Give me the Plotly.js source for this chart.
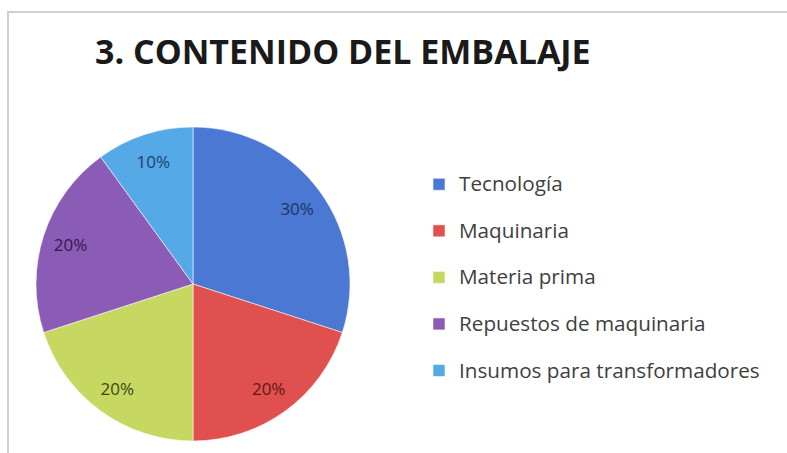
<!DOCTYPE html>
<html>
<head>
<meta charset="utf-8">
<script src="https://cdn.plot.ly/plotly-3.0.1.min.js"></script>
<style>html,body{margin:0;padding:0;background:#fff;}#chart{width:787px;height:453px;}</style>
</head>
<body>
<div id="chart"></div>
<script>
var categories = ["Tecnología", "Maquinaria", "Materia prima", "Repuestos de maquinaria", "Insumos para transformadores"];
var values = [30, 20, 20, 20, 10];
var sliceColors = ["#4A78D2", "#E0504E", "#C6D862", "#8B5CB5", "#55A9E6"];
var labelColors = ["#1C3466", "#5E1818", "#3C4612", "#34184C", "#1A4468"];
var titleText = "3. CONTENIDO DEL EMBALAJE";

var FONT = "'Open Sans', Lato, sans-serif";
var legendLabels = categories.map(function (c) {
  return '<span style="font-size:20.7px;baseline-shift:6px">' + c + '</span>';
});

var W = 787, H = 453;
var cx = 193, cy = 284, r = 157;
var dom = {
  x: [(cx - r) / W, (cx + r) / W],
  y: [(H - cy - r) / H, (H - cy + r) / H]
};

// filled pie with legend
var pieTrace = {
  type: "pie",
  labels: legendLabels,
  values: values,
  sort: false,
  direction: "clockwise",
  rotation: 0,
  marker: { colors: sliceColors, line: { color: "rgba(255,255,255,0.55)", width: 1 } },
  textinfo: "none",
  hoverinfo: "none",
  domain: dom
};

// same data as a transparent ring, only to carry the percent labels near the rim
var labelTrace = {
  type: "pie",
  labels: legendLabels,
  values: values,
  sort: false,
  direction: "clockwise",
  rotation: 0,
  hole: 0.64,
  showlegend: false,
  marker: { colors: sliceColors.map(function () { return "rgba(0,0,0,0)"; }), line: { width: 0 } },
  texttemplate: "%{percent:.0%}",
  textposition: "inside",
  insidetextorientation: "horizontal",
  textfont: { family: FONT, size: 17, color: labelColors },
  hoverinfo: "none",
  domain: dom
};

var layout = {
  width: W,
  height: H,
  margin: { l: 0, r: 0, t: 0, b: 0 },
  paper_bgcolor: "#ffffff",
  showlegend: true,
  title: {
    text: "<b>" + titleText + "</b>",
    font: { family: FONT, size: 34, color: "#1a1a1a" },
    x: 95 / W, xanchor: "left",
    y: (H - 52) / H, yanchor: "middle"
  },
  legend: {
    x: 419 / W, xanchor: "left",
    y: (H - 277.5) / H, yanchor: "middle",
    font: { family: FONT, size: 33.5, color: "#404040" },
    bgcolor: "rgba(0,0,0,0)",
    borderwidth: 0
  },
  shapes: [{
    type: "rect", xref: "paper", yref: "paper",
    x0: 8 / W, x1: 1.01, y0: -0.01, y1: (H - 12) / H,
    line: { color: "#cfcfcf", width: 2 }
  }]
};

Plotly.newPlot("chart", [pieTrace, labelTrace], layout, { displayModeBar: false, staticPlot: true });
</script>
</body>
</html>
